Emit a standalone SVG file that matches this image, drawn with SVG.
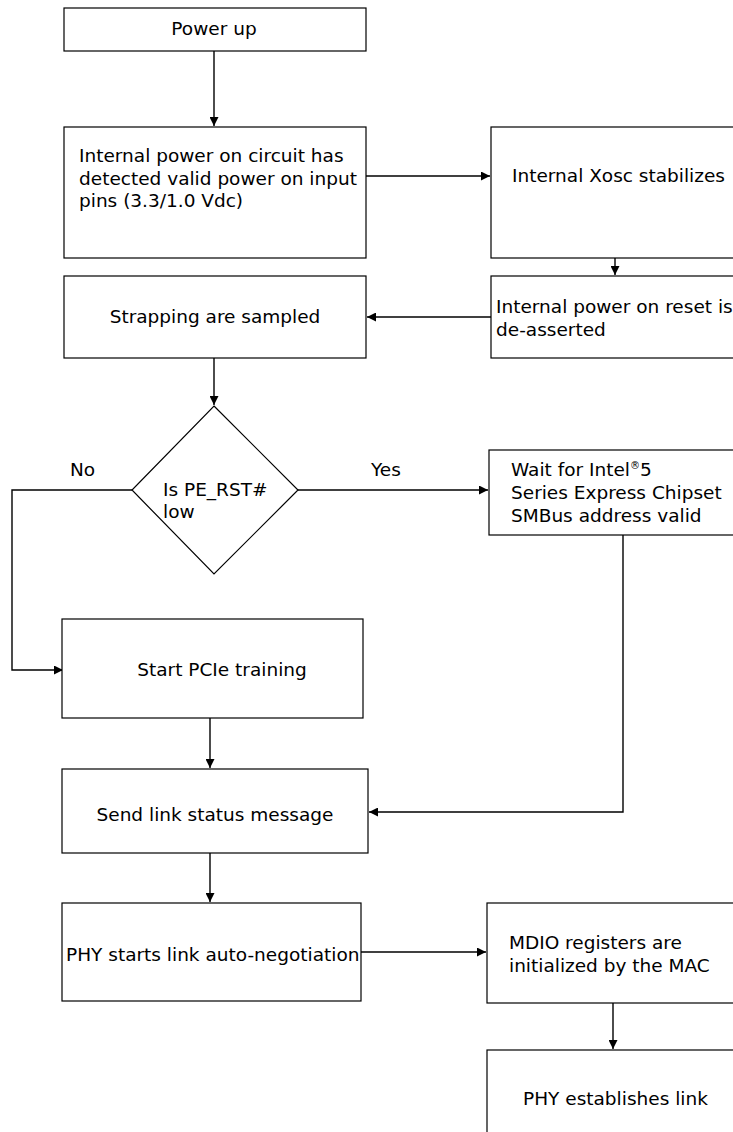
<svg xmlns="http://www.w3.org/2000/svg" width="733" height="1132" viewBox="0 0 733 1132">
<defs>
<marker id="ah" viewBox="0 0 10 10" refX="10" refY="5" markerWidth="9" markerHeight="9" markerUnits="userSpaceOnUse" orient="auto"><path d="M0,0 L10,5 L0,10 z" fill="#000"/></marker>
<style>
.box{fill:#fff;stroke:#000;stroke-width:1.2}
.t{font-family:"DejaVu Sans",Verdana,sans-serif;font-size:18.5px;fill:#000}
.c{text-anchor:middle}
.ln{fill:none;stroke:#000;stroke-width:1.4}
.ar{marker-end:url(#ah)}
</style>
</defs>
<rect width="733" height="1132" fill="#fff"/>
<g id="connectors">
<path class="ln ar" d="M214,51 V126"/>
<path class="ln ar" d="M366,176 H490"/>
<path class="ln ar" d="M615,258 V275"/>
<path class="ln ar" d="M491,317 H367"/>
<path class="ln ar" d="M214,358 V405"/>
<path class="ln ar" d="M132,490 H12 V670 H63"/>
<path class="ln ar" d="M298,490 H488"/>
<path class="ln ar" d="M623,535 V812 H369"/>
<path class="ln ar" d="M210,718 V768"/>
<path class="ln ar" d="M210,853 V902"/>
<path class="ln ar" d="M361,952 H486"/>
<path class="ln ar" d="M613,1003 V1049"/>
</g>
<g id="n1"><rect class="box" x="64" y="8" width="302" height="43"/><text class="t c" x="214" y="35">Power up</text></g>
<g id="n2"><rect class="box" x="64" y="127" width="302" height="131"/><text class="t" x="79" y="162">Internal power on circuit has</text><text class="t" x="79" y="185">detected valid power on input</text><text class="t" x="79" y="207">pins (3.3/1.0 Vdc)</text></g>
<g id="n3"><rect class="box" x="491" y="127" width="250" height="131"/><text class="t" x="512" y="182">Internal Xosc stabilizes</text></g>
<g id="n4"><rect class="box" x="491" y="276" width="250" height="82"/><text class="t" x="496" y="313">Internal power on reset is</text><text class="t" x="496" y="336">de-asserted</text></g>
<g id="n5"><rect class="box" x="64" y="276" width="302" height="82"/><text class="t c" x="215" y="323">Strapping are sampled</text></g>
<g id="n6"><path class="box" d="M214,406 L298,490 L214,574 L132,490 Z"/><text class="t" x="163" y="496">Is PE_RST#</text><text class="t" x="163" y="518">low</text></g>
<g id="labels"><text class="t" x="70" y="476">No</text><text class="t" x="371" y="476">Yes</text></g>
<g id="n7"><rect class="box" x="489" y="450" width="252" height="85"/><text class="t" x="511" y="476">Wait for Intel<tspan font-size="10" dy="-7">®</tspan><tspan dy="7">5</tspan></text><text class="t" x="511" y="499">Series Express Chipset</text><text class="t" x="511" y="522">SMBus address valid</text></g>
<g id="n8"><rect class="box" x="62" y="619" width="301" height="99"/><text class="t c" x="222" y="676">Start PCIe training</text></g>
<g id="n9"><rect class="box" x="62" y="769" width="306" height="84"/><text class="t c" x="215" y="821">Send link status message</text></g>
<g id="n10"><rect class="box" x="62" y="903" width="299" height="98"/><text class="t" x="66" y="961">PHY starts link auto-negotiation</text></g>
<g id="n11"><rect class="box" x="487" y="903" width="254" height="100"/><text class="t" x="509" y="949">MDIO registers are</text><text class="t" x="509" y="972">initialized by the MAC</text></g>
<g id="n12"><rect class="box" x="487" y="1050" width="254" height="100"/><text class="t" x="523" y="1105">PHY establishes link</text></g>
</svg>
